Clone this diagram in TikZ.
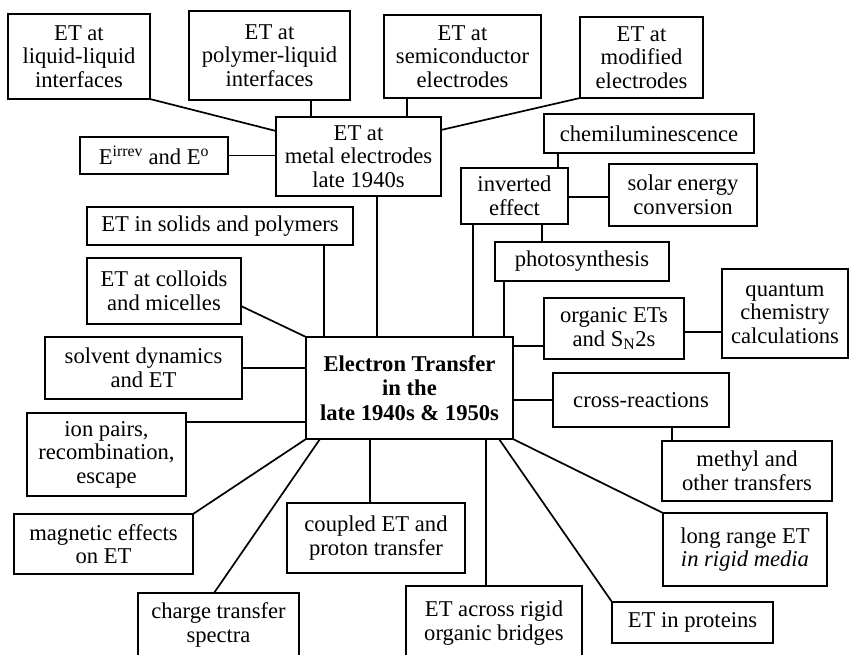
\documentclass[tikz,border=0pt]{standalone}
\usepackage{fontspec}
\setmainfont{Liberation Serif}
\usepackage{tikz}

\begin{document}
\begin{tikzpicture}[x=1pt,y=-1pt,
    box/.style={draw,line width=1.7pt,align=center,inner sep=0pt,outer sep=0pt,
        font=\fontsize{22.6}{23.5}\selectfont},
    link/.style={line width=1.7pt}]
    \clip (0,0) rectangle (850,654);
    % outer ring of topics
    \node[box,minimum width=142,minimum height=85] (liq) at (79,56.5) {ET at\\liquid-liquid\\interfaces};
    \node[box,minimum width=161,minimum height=89] (poly) at (269.5,55.5) {ET at\\polymer-liquid\\interfaces};
    \node[box,minimum width=157,minimum height=83] (semi) at (462.5,56.5) {ET at\\semiconductor\\electrodes};
    \node[box,minimum width=123,minimum height=81] (modif) at (641.5,57.5) {ET at\\modified\\electrodes};
    \node[box,minimum width=165,minimum height=79] (metal) at (358.5,156.5) {ET at\\metal electrodes\\late 1940s};
    \node[box,minimum width=148,minimum height=37] (eirr) at (154,155.5) {E\textsuperscript{irrev} and E\textsuperscript{o}};
    \node[box,minimum width=210,minimum height=39] (chem) at (649,133.5) {chemiluminescence};
    \node[box,minimum width=107,minimum height=56] (inv) at (514.5,196) {inverted\\effect};
    \node[box,minimum width=148,minimum height=62] (solar) at (683,195) {solar energy\\conversion};
    \node[box,minimum width=266,minimum height=38] (solids) at (220,226) {ET in solids and polymers};
    \node[box,minimum width=174,minimum height=39] (photo) at (582,261.5) {photosynthesis};
    \node[box,minimum width=154,minimum height=66] (colloid) at (164,291) {ET at colloids\\and micelles};
    \node[box,minimum width=140,minimum height=61] (organic) at (614,328.5) {organic ETs\\and S\textsubscript{N}2s};
    \node[box,minimum width=126,minimum height=89] (quantum) at (785,313.5) {quantum\\chemistry\\calculations};
    \node[box,minimum width=197,minimum height=62] (solvent) at (143.5,368) {solvent dynamics\\and ET};
    \node[box,font=\fontsize{22.6}{24.5}\selectfont\bfseries,minimum width=207,minimum height=102] (et) at (409.5,388)
        {Electron Transfer\\in the\\late 1940s \& 1950s};
    \node[box,minimum width=176,minimum height=54] (cross) at (641,400) {cross-reactions};
    \node[box,minimum width=159,minimum height=83] (ion) at (106.5,454.5) {ion pairs,\\recombination,\\escape};
    \node[box,minimum width=170,minimum height=60] (methyl) at (747,471) {methyl and\\other transfers};
    \node[box,minimum width=179,minimum height=60] (magnet) at (103.5,544) {magnetic effects\\on ET};
    \node[box,minimum width=178,minimum height=70] (coupled) at (376,538) {coupled ET and\\proton transfer};
    \node[box,minimum width=164,minimum height=73] (longrange) at (745,549.5) {long range ET\\\textit{in rigid media}};
    \node[box,minimum width=161,minimum height=64] (charge) at (218.5,625) {charge transfer\\spectra};
    \node[box,minimum width=176,minimum height=74] (across) at (494,623) {ET across rigid\\organic bridges};
    \node[box,minimum width=161,minimum height=41] (protein) at (692.5,622.5) {ET in proteins};

    % links round the metal electrodes box
    \draw[link] (liq.south east) -- ([yshift=-14pt]metal.north west);
    \draw[link] (poly.south -| 311,0) -- (metal.north -| 311,0);
    \draw[link] (semi.south -| 407,0) -- (metal.north -| 407,0);
    \draw[link] (modif.south west) -- ([yshift=-13pt]metal.north east);
    \draw[link] (eirr.east) -- (eirr.east -| metal.west);
    \draw[link] (metal.south -| 377,0) -- (et.north -| 377,0);

    % links round the inverted effect box
    \draw[link] (chem.south -| 558,0) -- (inv.north -| 558,0);
    \draw[link] (inv.east |- 0,197) -- (solar.west |- 0,197);
    \draw[link] (inv.south -| 542,0) -- (photo.north -| 542,0);
    \draw[link] (inv.south -| 473,0) -- (et.north -| 473,0);
    \draw[link] (photo.south -| 504,0) -- (et.north -| 504,0);

    % links into the centre
    \draw[link] (solids.south -| 324,0) -- (et.north -| 324,0);
    \draw[link] ([yshift=-15pt]colloid.east) -- (et.north west);
    \draw[link] (solvent.east) -- (solvent.east -| et.west);
    \draw[link] (ion.east |- 0,422) -- (et.west |- 0,422);
    \draw[link] (magnet.north east) -- (et.south west);
    \draw[link] (charge.north -| 214,0) -- (et.south -| 320,0);
    \draw[link] (et.south -| 370,0) -- (coupled.north -| 370,0);
    \draw[link] (et.south -| 486,0) -- (across.north -| 486,0);
    \draw[link] (et.south -| 499,0) -- (protein.north west);
    \draw[link] (et.south east) -- (longrange.north west);
    \draw[link] (et.east |- cross.west) -- (cross.west);
    \draw[link] (cross.south -| 672,0) -- (methyl.north -| 672,0);
    \draw[link] (et.east |- 0,346) -- (organic.west |- 0,346);
    \draw[link] (organic.east |- 0,332) -- (quantum.west |- 0,332);
\end{tikzpicture}
\end{document}
